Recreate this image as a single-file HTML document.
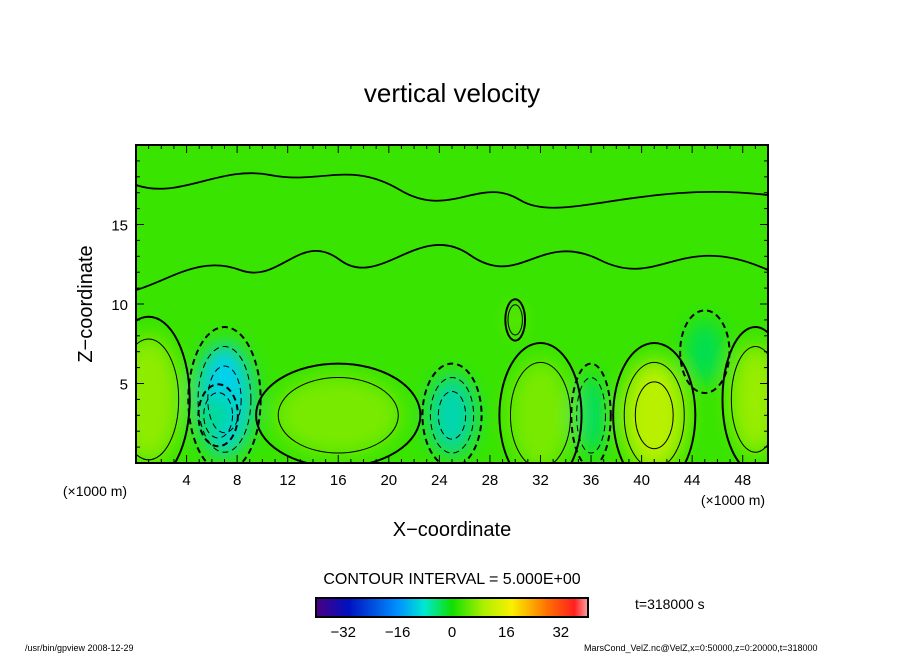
<!DOCTYPE html>
<html><head><meta charset="utf-8"><style>
body{margin:0;background:#fff;width:904px;height:654px;overflow:hidden;font-family:"Liberation Sans",sans-serif}
svg text{font-family:"Liberation Sans",sans-serif}
</style></head><body>
<svg id="s" width="904" height="654" viewBox="0 0 904 654">
<defs>
<filter id="bl" x="-50%" y="-50%" width="200%" height="200%"><feGaussianBlur stdDeviation="10"/></filter>
<clipPath id="pc"><rect x="136" y="145" width="632" height="318"/></clipPath>
<linearGradient id="cb" x1="0" x2="1">
<stop offset="0" stop-color="#4b0082"/><stop offset="0.12" stop-color="#0010c0"/><stop offset="0.3" stop-color="#0090ff"/><stop offset="0.4" stop-color="#00e8d0"/><stop offset="0.5" stop-color="#10e000"/><stop offset="0.62" stop-color="#b0f000"/><stop offset="0.72" stop-color="#f8f000"/><stop offset="0.85" stop-color="#ff7000"/><stop offset="0.95" stop-color="#ff2020"/><stop offset="1" stop-color="#ffa0a0"/>
</linearGradient>
</defs>
<text x="452" y="102" font-size="26" text-anchor="middle">vertical velocity</text>
<g clip-path="url(#pc)">
<rect x="136" y="145" width="632" height="318" fill="#38e400"/>
<g id="blobs" filter="url(#bl)"></g>
<g id="cont"></g>
</g>
<rect x="136" y="145" width="632" height="318" fill="none" stroke="#000" stroke-width="2"/>
<g id="ticks" stroke="#000" stroke-width="1"></g>
<g id="xl" font-size="15" text-anchor="middle"></g>
<g id="yl" font-size="15" text-anchor="end"></g>
<text x="95" y="496" font-size="14" text-anchor="middle">(×1000 m)</text>
<text x="733" y="505" font-size="14" text-anchor="middle">(×1000 m)</text>
<text x="452" y="536" font-size="20" text-anchor="middle">X−coordinate</text>
<text x="92" y="304" font-size="20" text-anchor="middle" transform="rotate(-90 92 304)">Z−coordinate</text>
<text x="452" y="584" font-size="16" text-anchor="middle">CONTOUR INTERVAL = 5.000E+00</text>
<rect x="316" y="598" width="272" height="19" fill="url(#cb)" stroke="#000" stroke-width="2"/>
<g id="cbl" font-size="15" text-anchor="middle"></g>
<text x="635" y="609" font-size="14">t=318000 s</text>
<text x="25" y="651" font-size="9">/usr/bin/gpview   2008-12-29</text>
<text x="584" y="651" font-size="9">MarsCond_VelZ.nc@VelZ,x=0:50000,z=0:20000,t=318000</text>
</svg>
<script>
const xTicks=[4,8,12,16,20,24,28,32,36,40,44,48];
const yTicks=[5,10,15];
const cbTicks=[-32,-16,0,16,32];
const blobX=[1,16,32,41,49,30,7,25,36,45,6.5];
const blobZ=[4,3,3,3,4,9,4,3,3,7,3];
const blobV=[8,6,6,12,9,5,-14,-10,-5,-4,-8];
const blobRx=[2.5,5,2.5,2.5,2,0.6,2.2,1.8,1.2,1.5,1.2];
const blobRz=[4,2.5,3.5,3.5,3.5,1,3.5,2.5,2.5,2,1.5];
const X=v=>136+v*632/50, Z=v=>463-v*318/20;
const NS="http://www.w3.org/2000/svg";
function mk(t,a,p){const e=document.createElementNS(NS,t);for(const k in a)e.setAttribute(k,a[k]);p.appendChild(e);return e;}
function col(v){if(v>0){const f=Math.min(v/14,1);return `rgb(${Math.round(56+150*f)},${Math.round(228+14*f)},0)`;}const f=Math.min(-v/14,1);return `rgb(0,${Math.round(228-20*f)},${Math.round(220*f+20)})`;}
const bg=document.getElementById('blobs'),cg=document.getElementById('cont');
blobX.forEach((x,i)=>{
 const e=mk('ellipse',{cx:X(x),cy:Z(blobZ[i]),rx:blobRx[i]*632/50,ry:blobRz[i]*318/20,fill:col(blobV[i])},bg);
 
 
 const n=Math.floor(Math.abs(blobV[i])/5)+1;
 for(let k=0;k<n;k++){const s=1.3-k*0.35;if(s<=0.15)break;
  const c=mk('ellipse',{cx:X(x),cy:Z(blobZ[i]),rx:blobRx[i]*632/50*s,ry:blobRz[i]*318/20*s,fill:'none',stroke:'#000','stroke-width':k==0?2:1,'stroke-dasharray':blobV[i]<0?'6,4':'none'},cg);
  
  }
});
// zero contour upper boundary (approximate)
const zc=mk('path',{d:'M136 290 C170 280 200 255 240 270 S300 230 340 260 S420 220 470 255 S540 230 600 260 S680 230 768 270',fill:'none',stroke:'#000','stroke-width':1.8},cg);


const zc2=mk('path',{d:'M136 185 C180 200 220 165 270 175 S350 160 400 190 S480 175 520 200 S640 180 768 195',fill:'none',stroke:'#000','stroke-width':1.8},cg);


const tg=document.getElementById('ticks');
for(let v=1;v<50;v++){const L=v%4==0?8:4;mk('line',{x1:X(v),x2:X(v),y1:463,y2:463-L},tg);mk('line',{x1:X(v),x2:X(v),y1:145,y2:145+L},tg);}
for(let v=1;v<20;v++){const L=v%5==0?8:4;mk('line',{x1:136,x2:136+L,y1:Z(v),y2:Z(v)},tg);mk('line',{x1:768,x2:768-L,y1:Z(v),y2:Z(v)},tg);}
const xl=document.getElementById('xl');
xTicks.forEach(v=>{const t=mk('text',{x:X(v),y:485},xl);t.textContent=v;
 
 });
const yl=document.getElementById('yl');
yTicks.forEach(v=>{const t=mk('text',{x:128,y:Z(v)+6},yl);t.textContent=v;
 
 });
const cl=document.getElementById('cbl');
cbTicks.forEach(v=>{const t=mk('text',{x:452+v*3.4,y:637},cl);t.textContent=(v<0?'−'+(-v):v);
 
 });
</script>
</body></html>
